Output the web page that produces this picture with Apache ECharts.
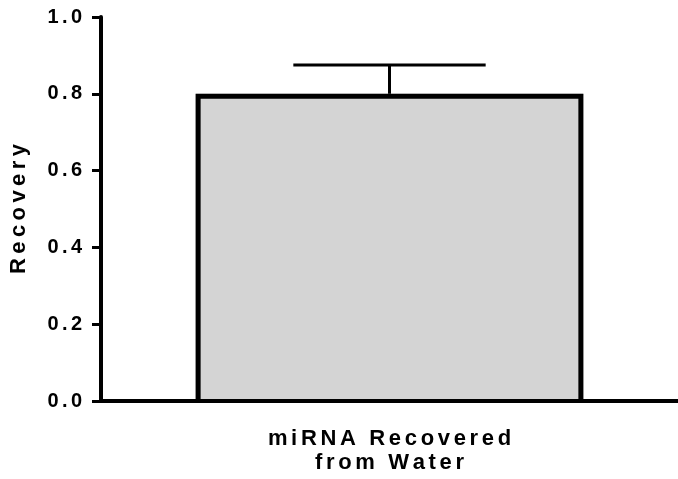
<!DOCTYPE html>
<html><head><meta charset="utf-8">
<script src="https://cdn.jsdelivr.net/npm/echarts@6/dist/echarts.min.js"></script>
<style>html,body{margin:0;padding:0;background:#fff}#c{width:678px;height:479px}</style>
</head><body><div id="c"></div>
<script>
const categories = ['miRNA Recovered\nfrom Water'];
const recovery = [0.80];
const errorUpper = [0.875];
const yTicks = [0, 0.2, 0.4, 0.6, 0.8, 1.0];
const yTitle = 'Recovery';

const BAR_FRAC = 0.672;
function spaced(s, sep) {
  return s.split('\n').map(line => line.split(' ').map(w => Array.from(w).join(sep)).join(sep + ' ' + sep)).join('\n');
}
const font = {fontFamily: '"Liberation Sans", Arial, sans-serif', fontWeight: 'bold', color: '#000'};

const chart = echarts.init(document.getElementById('c'), null, {renderer: 'canvas'});
chart.setOption({
  animation: false,
  grid: {left: 101, right: 0, top: 17, bottom: 78, containLabel: false, outerBoundsMode: 'none'},
  xAxis: {
    type: 'category', data: categories, z: 5,
    axisLine: {lineStyle: {color: '#000', width: 4}},
    axisTick: {alignWithLabel: true, length: 10, lineStyle: {color: '#000', width: 3}},
    axisLabel: Object.assign({fontSize: 22, lineHeight: 24, margin: 26, formatter: v => spaced(v, '\u2006')}, font)
  },
  yAxis: {
    type: 'value', min: yTicks[0], max: yTicks[yTicks.length - 1], interval: 0.2, z: 5,
    name: spaced(yTitle, '\u2009'), nameLocation: 'middle', nameGap: 71, nameRotate: 90,
    nameTextStyle: Object.assign({fontSize: 22}, font),
    splitLine: {show: false},
    axisLine: {show: true, lineStyle: {color: '#000', width: 4}},
    axisTick: {show: true, length: 9, lineStyle: {color: '#000', width: 3}},
    axisLabel: Object.assign({fontSize: 20, margin: 19, formatter: v => spaced(v.toFixed(1), '\u2006')}, font)
  },
  series: [
    {
      type: 'bar', z: 1, data: recovery, barWidth: (BAR_FRAC * 100) + '%',
      itemStyle: {color: '#d4d4d4', borderWidth: 0}
    },
    {
      type: 'custom', z: 2,
      data: categories.map((c, i) => [i, recovery[i], errorUpper[i]]),
      renderItem: function (params, api) {
        const x = api.value(0);
        const base = api.coord([x, api.value(1)]);
        const top = api.coord([x, api.value(2)]);
        const zero = api.coord([x, 0]);
        const band = api.size([1, 0])[0];
        const half = band / 6;
        const bw = band * BAR_FRAC;
        const lw = 5;
        const l = base[0] - bw / 2 + lw / 2, r = base[0] + bw / 2 - lw / 2, t = base[1] + lw / 2;
        return {type: 'group', children: [
          {type: 'line', shape: {x1: base[0], y1: base[1], x2: top[0], y2: top[1]}, style: {stroke: '#000', lineWidth: 3}},
          {type: 'line', shape: {x1: top[0] - half, y1: top[1], x2: top[0] + half, y2: top[1]}, style: {stroke: '#000', lineWidth: 3}},
          {type: 'polyline', shape: {points: [[l, zero[1]], [l, t], [r, t], [r, zero[1]]]}, style: {stroke: '#000', lineWidth: lw, fill: null, lineJoin: 'miter'}}
        ]};
      }
    }
  ]
});
</script></body></html>
